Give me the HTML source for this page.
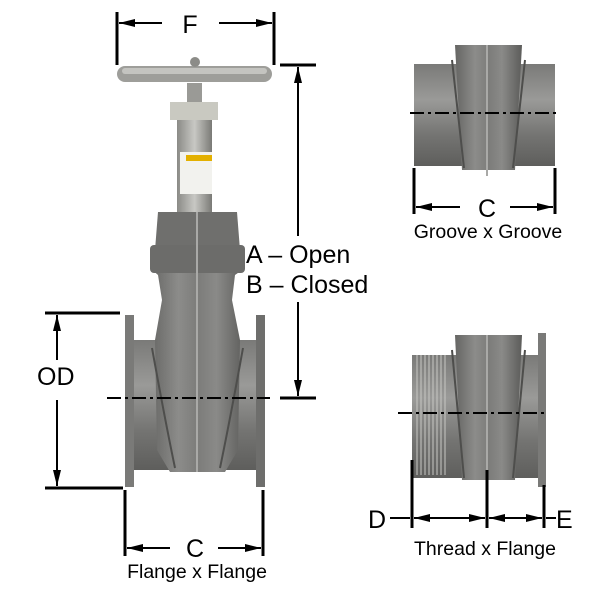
<!DOCTYPE html>
<html><head><meta charset="utf-8"><style>
html,body{margin:0;padding:0;background:#fff;}
svg{display:block;}
text{font-family:"Liberation Sans",sans-serif;fill:#000;}
</style></head><body>
<svg width="600" height="600" viewBox="0 0 600 600" xmlns="http://www.w3.org/2000/svg">
<defs>
<linearGradient id="pipe" x1="0" y1="0" x2="0" y2="1">
<stop offset="0" stop-color="#7a7a78"/><stop offset="0.35" stop-color="#9a9a98"/><stop offset="0.7" stop-color="#747472"/><stop offset="1" stop-color="#5e5e5c"/></linearGradient>
<linearGradient id="body" x1="0" y1="0" x2="1" y2="0">
<stop offset="0" stop-color="#666664"/><stop offset="0.3" stop-color="#8c8c8a"/><stop offset="0.5" stop-color="#7c7c7a"/><stop offset="0.7" stop-color="#8a8a88"/><stop offset="1" stop-color="#5c5c5a"/></linearGradient>
<linearGradient id="stem" x1="0" y1="0" x2="1" y2="0">
<stop offset="0" stop-color="#8a8a86"/><stop offset="0.5" stop-color="#c8c8c4"/><stop offset="1" stop-color="#7a7a76"/></linearGradient>
<marker id="ar" viewBox="0 0 16 8" refX="16" refY="4" markerWidth="16" markerHeight="8" orient="auto-start-reverse" markerUnits="userSpaceOnUse"><path d="M0,0 L16,4 L0,8 z" fill="#000"/></marker>
</defs>

<!-- ===== Main valve ===== -->
<g stroke="#000" stroke-width="3"><line x1="117" y1="12" x2="117" y2="65"/><line x1="274" y1="12" x2="274" y2="65"/></g>
<g stroke="#000" stroke-width="2"><line x1="162" y1="23" x2="119" y2="23" marker-end="url(#ar)"/><line x1="219" y1="23" x2="272" y2="23" marker-end="url(#ar)"/></g>
<text x="190" y="33" font-size="25" text-anchor="middle">F</text>

<rect x="128" y="340" width="134" height="130" fill="url(#pipe)"/>
<rect x="125" y="315" width="9" height="172" fill="#7a7a78"/>
<rect x="256" y="315" width="9" height="172" fill="#6e6e6c"/>
<path d="M150 250 L245 250 L245 268 L235 275 L232 300 L240 340 L238 450 L225 472 L170 472 L157 450 L155 340 L162 300 L158 275 L150 268 Z" fill="url(#body)"/>
<path d="M158 212 L237 212 L240 250 L155 250 Z" fill="#6f6f6d"/>
<rect x="150" y="245" width="95" height="28" rx="4" fill="#6c6c6a"/>
<line x1="197" y1="212" x2="197" y2="472" stroke="#a9a9a7" stroke-width="2"/>
<path d="M152 348 Q165 420 175 468 M243 348 Q230 420 220 468" stroke="#4e4e4c" stroke-width="2" fill="none"/>
<rect x="177" y="120" width="35" height="92" fill="url(#stem)"/>
<rect x="180" y="152" width="32" height="42" fill="#f2f2ee"/>
<rect x="186" y="155" width="26" height="6" fill="#e3b000"/>
<path d="M170 102 L218 102 L218 120 L170 120 Z" fill="#c9c9c1"/>
<rect x="187" y="83" width="15" height="19" fill="#9a9a96"/>
<rect x="117" y="66" width="155" height="16" rx="8" fill="#9e9e9a"/>
<rect x="122" y="68" width="145" height="6" rx="3" fill="#c4c4c0"/>
<circle cx="195" cy="62" r="5" fill="#8c8c88"/>
<line x1="107" y1="398" x2="270" y2="398" stroke="#000" stroke-width="2" stroke-dasharray="14,4,3,4"/>

<g stroke="#000" stroke-width="3"><line x1="280" y1="65" x2="316" y2="65"/><line x1="280" y1="398" x2="316" y2="398"/></g>
<g stroke="#000" stroke-width="2"><line x1="298" y1="236" x2="298" y2="67" marker-end="url(#ar)"/><line x1="298" y1="302" x2="298" y2="396" marker-end="url(#ar)"/></g>
<text x="246" y="263" font-size="25">A – Open</text>
<text x="246" y="293" font-size="25">B – Closed</text>

<g stroke="#000" stroke-width="3"><line x1="45" y1="313" x2="120" y2="313"/><line x1="45" y1="488" x2="123" y2="488"/></g>
<g stroke="#000" stroke-width="2"><line x1="57" y1="360" x2="57" y2="315" marker-end="url(#ar)"/><line x1="57" y1="400" x2="57" y2="486" marker-end="url(#ar)"/></g>
<text x="37" y="385" font-size="25">OD</text>

<g stroke="#000" stroke-width="3"><line x1="125" y1="490" x2="125" y2="556"/><line x1="263" y1="490" x2="263" y2="556"/></g>
<g stroke="#000" stroke-width="2"><line x1="170" y1="548" x2="127" y2="548" marker-end="url(#ar)"/><line x1="218" y1="548" x2="261" y2="548" marker-end="url(#ar)"/></g>
<text x="195" y="557" font-size="25" text-anchor="middle">C</text>
<text x="197" y="578" font-size="19.5" text-anchor="middle">Flange x Flange</text>

<!-- ===== Groove x Groove ===== -->
<rect x="414" y="64" width="141" height="102" fill="url(#pipe)"/>
<path d="M455 45 L522 45 L515 170 L462 170 Z" fill="url(#body)"/>
<line x1="487" y1="45" x2="487" y2="176" stroke="#a9a9a7" stroke-width="2"/>
<path d="M452 60 L464 168 M525 60 L513 168" stroke="#4e4e4c" stroke-width="2"/>
<line x1="410" y1="113" x2="557" y2="113" stroke="#000" stroke-width="2" stroke-dasharray="14,4,3,4"/>
<g stroke="#000" stroke-width="3"><line x1="414" y1="168" x2="414" y2="214"/><line x1="555" y1="168" x2="555" y2="214"/></g>
<g stroke="#000" stroke-width="2"><line x1="460" y1="207" x2="416" y2="207" marker-end="url(#ar)"/><line x1="510" y1="207" x2="553" y2="207" marker-end="url(#ar)"/></g>
<text x="487" y="217" font-size="25" text-anchor="middle">C</text>
<text x="488" y="238" font-size="19.5" text-anchor="middle">Groove x Groove</text>

<!-- ===== Thread x Flange ===== -->
<rect x="412" y="355" width="130" height="123" fill="url(#pipe)"/>
<g stroke="#c8c8c4" stroke-width="1">
<line x1="417" y1="355" x2="417" y2="475"/><line x1="421" y1="355" x2="421" y2="475"/><line x1="425" y1="355" x2="425" y2="475"/><line x1="429" y1="355" x2="429" y2="475"/><line x1="433" y1="355" x2="433" y2="475"/><line x1="437" y1="355" x2="437" y2="475"/><line x1="441" y1="355" x2="441" y2="475"/><line x1="445" y1="355" x2="445" y2="475"/></g>
<path d="M455 335 L522 335 L515 480 L462 480 Z" fill="url(#body)"/>
<line x1="487" y1="335" x2="487" y2="485" stroke="#a9a9a7" stroke-width="2"/>
<path d="M452 350 L464 478 M525 350 L513 478" stroke="#4e4e4c" stroke-width="2"/>
<rect x="538" y="333" width="8" height="154" fill="#7a7a78"/>
<line x1="398" y1="413" x2="545" y2="413" stroke="#000" stroke-width="2" stroke-dasharray="14,4,3,4"/>
<g stroke="#000" stroke-width="3"><line x1="412" y1="460" x2="412" y2="528"/><line x1="487" y1="470" x2="487" y2="528"/><line x1="544" y1="485" x2="544" y2="528"/></g>
<g stroke="#000" stroke-width="2">
<line x1="390" y1="518" x2="410" y2="518"/>
<line x1="450" y1="518" x2="414" y2="518" marker-end="url(#ar)"/><line x1="450" y1="518" x2="485" y2="518" marker-end="url(#ar)"/>
<line x1="515" y1="518" x2="489" y2="518" marker-end="url(#ar)"/><line x1="515" y1="518" x2="542" y2="518" marker-end="url(#ar)"/>
<line x1="546" y1="518" x2="556" y2="518"/></g>
<text x="368" y="528" font-size="25">D</text>
<text x="556" y="528" font-size="25">E</text>
<text x="485" y="555" font-size="19.5" text-anchor="middle">Thread x Flange</text>
</svg>
</body></html>
